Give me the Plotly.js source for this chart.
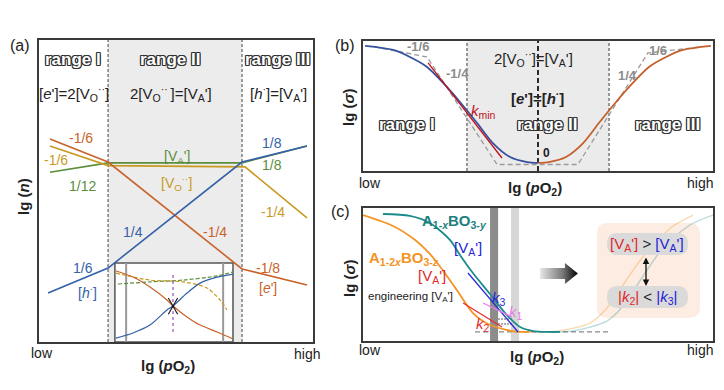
<!DOCTYPE html>
<html><head><meta charset="utf-8">
<script src="https://cdn.plot.ly/plotly-3.0.1.min.js"></script>
<style>html,body{margin:0;padding:0;background:#fff}</style>
</head><body><div id="chart" style="width:724px;height:390px"></div>
<script>
// ================= DATA (schematic values, arbitrary units) =================
// Panel (a): lg n versus lg pO2 (x 0..10, y 0..10)
const aE_x  = [0.40, 2.52, 7.41, 9.78];
const aE_y  = [6.72, 5.96, 2.42, 1.89];
const aH_x  = [0.33, 2.52, 7.41, 9.78];
const aH_y  = [1.62, 2.45, 5.96, 6.49];
const aVA_x = [0.40, 2.52, 7.41, 9.78];
const aVA_y = [5.62, 5.93, 5.93, 6.49];
const aVO_x = [0.40, 2.52, 7.52, 9.78];
const aVO_y = [6.49, 5.84, 5.80, 4.11];
const aBounds = [2.52, 7.41];
// inset of panel (a)
const inE_x  = [2.81, 3.43, 4.05, 4.67, 4.89, 5.40, 5.88, 6.50, 7.08];
const inE_y  = [2.35, 2.15, 1.82, 1.39, 1.19, 0.83, 0.56, 0.33, 0.10];
const inH_x  = [2.81, 3.43, 4.05, 4.67, 4.89, 5.40, 5.88, 6.50, 7.08];
const inH_y  = [0.13, 0.30, 0.56, 1.06, 1.19, 1.62, 1.95, 2.15, 2.25];
const inVA_x = [2.88, 4.05, 5.26, 6.50, 7.08];
const inVA_y = [1.92, 1.99, 2.05, 2.19, 2.32];
const inVO_x = [2.81, 4.05, 5.26, 6.13, 6.61, 6.86];
const inVO_y = [2.28, 2.05, 1.99, 1.79, 1.39, 1.06];
const inMid_x = [4.89, 4.89];
const inMid_y = [0.33, 2.28];
const inBox = [2.77, 7.08, 0, 2.62];
const inInner = [3.18, 6.72];

// Panel (b): lg sigma versus lg pO2
const bLow_x  = [0.06, 0.86, 1.34, 1.83, 2.29, 2.77, 3.26, 3.71, 4.20, 4.69, 5.00];
const bLow_y  = [9.62, 9.31, 8.77, 8.00, 6.77, 5.31, 3.69, 2.15, 1.08, 0.69, 0.62];
const bHigh_x = [5.00, 5.31, 5.80, 6.29, 6.74, 7.23, 7.71, 8.17, 8.66, 9.14, 9.94];
const bHigh_y = [0.62, 0.69, 1.08, 2.15, 3.69, 5.31, 6.77, 8.00, 8.77, 9.31, 9.62];
const bAsym_x = [0.34, 1.83, 3.83, 6.14, 8.14, 9.63];
const bAsym_y = [9.54, 8.77, 0.50, 0.50, 9.08, 9.54];
const bKmin_x = [1.86, 3.97];
const bKmin_y = [8.31, 1.00];
const bBounds = [2.97, 5.00, 7.03];

// Panel (c): lg sigma versus lg pO2
const cOr_x   = [0, 0.86, 1.49, 1.91, 2.20, 2.69, 3.14, 3.63, 4.11, 4.40, 4.77];
const cOr_y   = [9.47, 8.65, 7.59, 6.55, 5.60, 3.80, 2.10, 1.20, 0.83, 0.70, 0.68];
const cOrF_x  = [4.77, 5.26, 5.80, 6.49, 6.97, 7.43, 7.91, 8.40, 8.86, 9.43];
const cOrF_y  = [0.68, 0.68, 0.85, 1.35, 2.48, 4.21, 6.02, 7.52, 8.65, 9.47];
const cTe_x   = [0.57, 1.34, 1.91, 2.49, 2.77, 3.14, 3.63, 4.11, 4.49, 4.86, 5.34, 5.63];
const cTe_y   = [9.55, 9.40, 8.87, 7.59, 6.47, 5.11, 3.53, 1.95, 1.05, 0.75, 0.68, 0.68];
const cTeF_x  = [5.63, 6.00, 6.97, 7.43, 7.91, 8.57, 9.34, 10.0];
const cTeF_y  = [0.68, 0.75, 1.50, 2.63, 4.51, 6.99, 8.72, 9.47];
const cK3_x = [3.00, 4.43], cK3_y = [5.11, 0.68];
const cK1_x = [3.43, 4.26], cK1_y = [2.86, 1.80];
const cK2_x = [2.86, 3.97], cK2_y = [2.86, 1.05];
const cFloor_x = [3.20, 7.06], cFloor_y = [0.68, 0.68];
const cGuide_x = [3.86, 4.29], cGuide_y1 = [1.65, 1.65], cGuide_y2 = [1.28, 1.28];
const cBarDark = [3.63, 3.86], cBarLight = [4.23, 4.46];

// ================= STYLE / LAYOUT =================
const W = 724, H = 390;
const FF = '"Liberation Sans", Arial, sans-serif';
const OUT = '1px 1px 0 #333, -1px -1px 0 #333, 1px -1px 0 #333, -1px 1px 0 #333, 0 1px 0 #333, 1px 0 0 #333, 0 -1px 0 #333, -1px 0 0 #333';
const C = {e:'#c9632a', h:'#3461a8', va:'#5b8e3c', vo:'#c99a1f',
           bB:'#37509f', bO:'#c4602b', cO:'#f39425', cT:'#1b8c8c'};

function ln(x, y, xa, ya, color, width, extra) {
  return Object.assign({x:x, y:y, xaxis:xa, yaxis:ya, type:'scatter', mode:'lines',
    line:{color:color, width:width}, hoverinfo:'skip', showlegend:false}, extra || {});
}
const sp = {shape:'spline', smoothing:0.8};

const traces = [
  // panel (a)
  ln(aVA_x, aVA_y, 'x', 'y', C.va, 1.6),
  ln(aVO_x, aVO_y, 'x', 'y', C.vo, 1.6),
  ln(aE_x, aE_y, 'x', 'y', C.e, 1.6),
  ln(aH_x, aH_y, 'x', 'y', C.h, 1.6),
  ln(inVA_x, inVA_y, 'x', 'y', C.va, 1.2, {line:Object.assign({color:C.va, width:1.2, dash:'4px,2px'}, sp)}),
  ln(inVO_x, inVO_y, 'x', 'y', C.vo, 1.2, {line:Object.assign({color:C.vo, width:1.2, dash:'4px,2px'}, sp)}),
  ln(inE_x, inE_y, 'x', 'y', C.e, 1.2, {line:Object.assign({color:C.e, width:1.2}, sp)}),
  ln(inH_x, inH_y, 'x', 'y', C.h, 1.2, {line:Object.assign({color:C.h, width:1.2}, sp)}),
  ln(inMid_x, inMid_y, 'x', 'y', '#9a4fd0', 1.2, {line:{color:'#9a4fd0', width:1.2, dash:'dot'}}),
  // panel (b)
  ln(bAsym_x, bAsym_y, 'x2', 'y2', '#9a9a9a', 1.3, {line:{color:'#9a9a9a', width:1.3, dash:'5px,3px'}}),
  ln(bLow_x, bLow_y, 'x2', 'y2', C.bB, 1.8, {line:Object.assign({color:C.bB, width:1.8}, sp)}),
  ln(bHigh_x, bHigh_y, 'x2', 'y2', C.bO, 1.8, {line:Object.assign({color:C.bO, width:1.8}, sp)}),
  ln(bKmin_x, bKmin_y, 'x2', 'y2', '#c0101a', 1.3),
  // panel (c)
  ln(cFloor_x, cFloor_y, 'x3', 'y3', '#888', 1.3, {line:{color:'#888', width:1.3, dash:'5px,3px'}}),
  ln(cGuide_x, cGuide_y1, 'x3', 'y3', '#333', 0.8, {line:{color:'#333', width:0.8, dash:'2px,1px'}}),
  ln(cGuide_x, cGuide_y2, 'x3', 'y3', '#333', 0.8, {line:{color:'#333', width:0.8, dash:'2px,1px'}}),
  ln(cOrF_x, cOrF_y, 'x3', 'y3', 'rgba(243,148,37,0.35)', 1.4, {line:Object.assign({color:'rgba(243,148,37,0.35)', width:1.4}, sp)}),
  ln(cTeF_x, cTeF_y, 'x3', 'y3', 'rgba(27,140,140,0.3)', 1.4, {line:Object.assign({color:'rgba(27,140,140,0.3)', width:1.4}, sp)}),
  ln(cOr_x, cOr_y, 'x3', 'y3', C.cO, 1.8, {line:Object.assign({color:C.cO, width:1.8}, sp)}),
  ln(cTe_x, cTe_y, 'x3', 'y3', C.cT, 1.8, {line:Object.assign({color:C.cT, width:1.8}, sp)}),
  ln(cK3_x, cK3_y, 'x3', 'y3', '#2b2bd6', 1.3),
  ln(cK1_x, cK1_y, 'x3', 'y3', '#e87de8', 1.3),
  ln(cK2_x, cK2_y, 'x3', 'y3', '#e53030', 1.3),
];

// crossing marks in the inset of (a)
const crossA_x = [4.72, 5.06], crossA_y1 = [1.46, 0.92], crossA_y2 = [0.92, 1.46];
traces.push(ln(crossA_x, crossA_y1, 'x', 'y', '#111', 1.1));
traces.push(ln(crossA_x, crossA_y2, 'x', 'y', '#111', 1.1));

// gradient arrow in (c)
const arrowX = [5.06, 5.77, 5.77, 6.14, 5.77, 5.77, 5.06, 5.06];
const arrowY = [5.49, 5.49, 5.86, 5.08, 4.29, 4.66, 4.66, 5.49];
traces.push({x:arrowX, y:arrowY, xaxis:'x3', yaxis:'y3', type:'scatter', mode:'lines',
  fill:'toself', line:{width:0, color:'rgba(0,0,0,0)'},
  fillgradient:{type:'horizontal', colorscale:[[0,'#e6e6e6'],[0.6,'#777'],[1,'#000']]},
  hoverinfo:'skip', showlegend:false});

function ax(d0, d1, extra) {
  return Object.assign({domain:[d0, d1], range:[0, 10], showgrid:false, zeroline:false,
    showticklabels:false, ticks:'', showline:true, mirror:true, linecolor:'#3a3a3a',
    linewidth:1.8, fixedrange:true}, extra || {});
}
const px = v => v / W, py = v => 1 - v / H;

function rrect(x0, y0, x1, y1, r) {
  const X = v => (v / W).toFixed(5), Y = v => (1 - v / H).toFixed(5);
  return `M${X(x0+r)},${Y(y0)} L${X(x1-r)},${Y(y0)} Q${X(x1)},${Y(y0)} ${X(x1)},${Y(y0+r)} ` +
         `L${X(x1)},${Y(y1-r)} Q${X(x1)},${Y(y1)} ${X(x1-r)},${Y(y1)} L${X(x0+r)},${Y(y1)} ` +
         `Q${X(x0)},${Y(y1)} ${X(x0)},${Y(y1-r)} L${X(x0)},${Y(y0+r)} Q${X(x0)},${Y(y0)} ${X(x0+r)},${Y(y0)} Z`;
}

const shapes = [
  // (a)
  {type:'rect', xref:'x', yref:'y', x0:aBounds[0], x1:aBounds[1], y0:0, y1:10, fillcolor:'#ececec', line:{width:0}, layer:'below'},
  {type:'rect', xref:'x', yref:'y', x0:inBox[0], x1:inBox[1], y0:inBox[2], y1:inBox[3], fillcolor:'#fff', line:{color:'#555', width:1.5}, layer:'below'},
  {type:'line', xref:'x', yref:'y', x0:inInner[0], x1:inInner[0], y0:0, y1:inBox[3], line:{color:'#9a9a9a', width:2}, layer:'below'},
  {type:'line', xref:'x', yref:'y', x0:inInner[1], x1:inInner[1], y0:0, y1:inBox[3], line:{color:'#9a9a9a', width:2}, layer:'below'},
  {type:'line', xref:'x', yref:'y', x0:aBounds[0], x1:aBounds[0], y0:0, y1:10, line:{color:'#555', width:1.1, dash:'3px,2px'}, layer:'below'},
  {type:'line', xref:'x', yref:'y', x0:aBounds[1], x1:aBounds[1], y0:0, y1:10, line:{color:'#555', width:1.1, dash:'3px,2px'}, layer:'below'},
  // (b)
  {type:'rect', xref:'x2', yref:'y2', x0:bBounds[0], x1:bBounds[2], y0:0, y1:10, fillcolor:'#ebebeb', line:{width:0}, layer:'below'},
  {type:'line', xref:'x2', yref:'y2', x0:bBounds[0], x1:bBounds[0], y0:0, y1:10, line:{color:'#666', width:1.3, dash:'3px,2px'}, layer:'below'},
  {type:'line', xref:'x2', yref:'y2', x0:bBounds[2], x1:bBounds[2], y0:0, y1:10, line:{color:'#666', width:1.3, dash:'3px,2px'}, layer:'below'},
  {type:'line', xref:'x2', yref:'y2', x0:bBounds[1], x1:bBounds[1], y0:0, y1:10, line:{color:'#2a2a2a', width:2, dash:'5px,3px'}, layer:'below'},
  // (c)
  {type:'rect', xref:'x3', yref:'y3', x0:cBarDark[0], x1:cBarDark[1], y0:0, y1:10, fillcolor:'#8c8c8c', line:{width:0}, layer:'below'},
  {type:'rect', xref:'x3', yref:'y3', x0:cBarLight[0], x1:cBarLight[1], y0:0, y1:10, fillcolor:'#d6d6d6', line:{width:0}, layer:'below'},
  {type:'path', xref:'paper', yref:'paper', path:rrect(597, 223, 700, 318, 11), fillcolor:'rgba(245,200,170,0.35)', line:{width:0}, layer:'below'},
  {type:'path', xref:'paper', yref:'paper', path:rrect(607, 233, 688, 255, 11), fillcolor:'#dadada', line:{width:0}, layer:'above'},
  {type:'path', xref:'paper', yref:'paper', path:rrect(607, 286, 688, 308, 11), fillcolor:'#dadada', line:{width:0}, layer:'above'},
];

function A(x, y, text, size, color, extra) {
  return Object.assign({xref:'paper', yref:'paper', x:px(x), y:py(y), text:text, showarrow:false,
    xanchor:'center', yanchor:'middle', font:{family:FF, size:size || 14, color:color || '#222'}}, extra || {});
}
function R(x, y, text) { // outlined range label
  return A(x, y, text, 17, '#fff', {font:{family:FF, size:17, color:'#fff', weight:'bold', shadow:OUT}});
}
const VA = "[V<sub>A</sub>']", VO = "[V<sub>O</sub><sup>··</sup>]";
const pO2 = '<b>lg (<i>p</i>O<sub>2</sub>)</b>';

const annotations = [
  // (a)
  A(20, 45, '(a)', 16, '#222'),
  R(73, 59, 'range I'), R(170, 59, 'range II'), R(277, 59, 'range III'),
  A(74, 93, "[<i>e</i>']=2" + VO, 15),
  A(171, 93, '2[V<sub>O</sub><sup>·· </sup>]=' + VA, 15),
  A(278, 93, '[<i>h</i><sup>·</sup>]=' + VA, 15),
  A(81, 138, '-1/6', 14, C.e), A(56, 160, '-1/6', 14, C.vo), A(82, 186, '1/12', 14, C.va),
  A(177, 157, VA, 14, C.va), A(176, 183, VO, 14, C.vo),
  A(272, 143, '1/8', 14, C.h), A(272, 165, '1/8', 14, C.va), A(273, 212, '-1/4', 14, C.vo),
  A(133, 232, '1/4', 14, C.h), A(215, 232, '-1/4', 14, C.e),
  A(83, 268, '1/6', 14, C.h), A(87, 292, '[<i>h</i><sup>·</sup>]', 14, C.h),
  A(268, 268, '-1/8', 14, C.e), A(268, 288, "[<i>e</i>']", 14, C.e),
  A(23, 197, '<b>lg (<i>n</i>)</b>', 15, '#222', {textangle:-90}),
  A(42, 353, 'low', 14), A(307, 354, 'high', 14), A(168, 366, pO2, 15),
  // (b)
  A(345, 45, '(b)', 16, '#222'),
  A(348, 108, '<b>lg (<i>σ</i>)</b>', 15, '#222', {textangle:-90}),
  A(418, 46, '<b>-1/6</b>', 13, '#8c8c8c'), A(457, 73, '<b>-1/4</b>', 13, '#8c8c8c'),
  A(658, 51, '<b>1/6</b>', 13, '#8c8c8c'), A(627, 75, '<b>1/4</b>', 13, '#8c8c8c'),
  A(533, 58, '2' + VO + '=' + VA, 15),
  A(537, 97, "<b>[<i>e</i>']=[<i>h</i><sup>·</sup>]</b>", 15),
  A(484, 112, '<i>k</i><sub>min</sub>', 15, '#c0101a'),
  A(546, 153, '<b>0</b>', 12),
  R(407, 125, 'range I'), R(547, 125, 'range II'), R(667, 125, 'range III'),
  A(370, 183, 'low', 14), A(700, 183, 'high', 14), A(535, 188, pO2, 15),
  // (c)
  A(340, 212, '(c)', 16, '#222'),
  A(349, 279, '<b>lg (<i>σ</i>)</b>', 15, '#222', {textangle:-90}),
  A(454, 221, '<b>A<sub>1-<i>x</i></sub>BO<sub>3-<i>y</i></sub></b>', 15, '#1e8080'),
  A(468, 249, VA, 15, '#2323d8'),
  A(404, 258, '<b>A<sub>1-2<i>x</i></sub>BO<sub>3-<i>z</i></sub></b>', 15, C.cO),
  A(432, 276, VA, 15, '#e02828'),
  A(410, 297, 'engineering ' + VA, 11.5, '#222'),
  A(499, 298, '<i>k</i><sub>3</sub>', 15, '#2b2bd6'),
  A(516, 312, '<i>k</i><sub>1</sub>', 15, '#e87de8'),
  A(483, 324, '<i>k</i><sub>2</sub>', 15, '#e53030'),
  A(647, 244, '<span style="color:#e02828">' + VA + '</span> &gt; <span style="color:#2323d8">' + VA + '</span>', 15, '#222'),
  A(647, 297, '<span style="color:#e02828">|<i>k</i><sub>2</sub>|</span> &lt; <span style="color:#2323d8">|<i>k</i><sub>3</sub>|</span>', 15, '#222'),
  {xref:'paper', yref:'paper', x:px(646), y:py(286), ax:0, ay:-30, axref:'pixel', ayref:'pixel',
   showarrow:true, arrowhead:2, startarrowhead:2, arrowside:'end+start', arrowsize:1, arrowwidth:1.3,
   arrowcolor:'#111', text:''},
  A(370, 350, 'low', 14), A(700, 350, 'high', 14), A(537, 357, pO2, 15),
];

const layout = {
  width:W, height:H, margin:{l:0, r:0, t:0, b:0, pad:0},
  paper_bgcolor:'#fff', plot_bgcolor:'#fff', showlegend:false,
  font:{family:FF, color:'#222'},
  xaxis:  ax(px(39), px(313)),  yaxis:  ax(py(342), py(40)),
  xaxis2: ax(px(363), px(713), {anchor:'y2'}), yaxis2: ax(py(171), py(41), {anchor:'x2'}),
  xaxis3: ax(px(363), px(713), {anchor:'y3'}), yaxis3: ax(py(341), py(208), {anchor:'x3'}),
  shapes:shapes, annotations:annotations,
};
layout.xaxis.anchor = 'y'; layout.yaxis.anchor = 'x';

Plotly.newPlot('chart', traces, layout, {displayModeBar:false, staticPlot:true});
</script>
</body></html>
